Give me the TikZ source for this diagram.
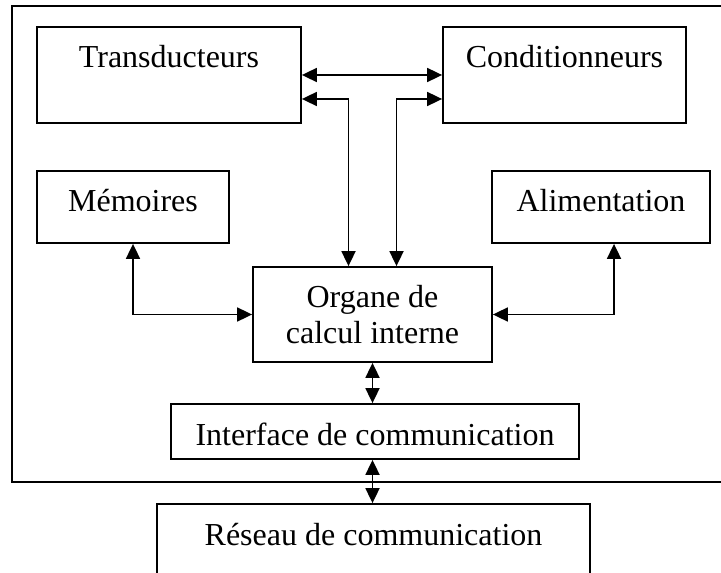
\documentclass[tikz,border=0pt]{standalone}
\usepackage{fontspec}
\setmainfont{Liberation Serif}
\usetikzlibrary{arrows.meta}
\tikzset{
  line/.style={
    line width=0.9pt,
    line join=miter
  },
  block/.style={
    line,
    draw=black,
    inner sep=0pt,
    text height=20.5pt,
    font=\fontsize{16}{18}\selectfont
  },
  block-two/.style={
    line,
    draw=black,
    inner sep=0pt,
    align=center,
    font=\fontsize{16}{18}\selectfont
  },
  link/.style={line, {Triangle[length=7.5pt,width=7pt]}-{Triangle[length=7.5pt,width=7pt]}}
}

\begin{document}
\begin{tikzpicture}[x=0.5pt, y=-0.5pt]
  \clip (0,0) rectangle (721,572);
  % Outer frame
  \draw[line] (12,6) rectangle (735,482);
  % Blocks
  \node[block, minimum width=132pt, text depth=27.5pt] (trans) at (169,75) {Transducteurs};
  \node[block, minimum width=121.5pt, text depth=27.5pt] (cond) at (564.5,75) {Conditionneurs};
  \node[block, minimum width=96pt, text depth=15.5pt] (mem) at (133,207) {Mémoires};
  \node[block, minimum width=109pt, text depth=15.5pt] (alim) at (601,207) {Alimentation};
  \node[block-two, minimum width=119.5pt, minimum height=47.5pt] (org) at (372.5,314.5) {Organe de\\calcul interne};
  \node[block, minimum width=204pt, text depth=7pt] (iface) at (375,431.5) {Interface de communication};
  \node[block, minimum width=216.5pt, text depth=20pt] (res) at (373.5,544.5) {Réseau de communication};
  % Links
  \draw[link] (trans.east) -- (cond.west);
  \draw[link] ([yshift=-12pt]trans.east) -| ([xshift=-12pt]org.north);
  \draw[link] ([yshift=-12pt]cond.west) -| ([xshift=12pt]org.north);
  \draw[link] (mem.south) |- (org.west);
  \draw[link] ([xshift=6.5pt]alim.south) |- (org.east);
  \draw[link] (org.south) -- (org.south |- iface.north);
  \draw[link] (org.south |- iface.south) -- (org.south |- res.north);
\end{tikzpicture}
\end{document}
